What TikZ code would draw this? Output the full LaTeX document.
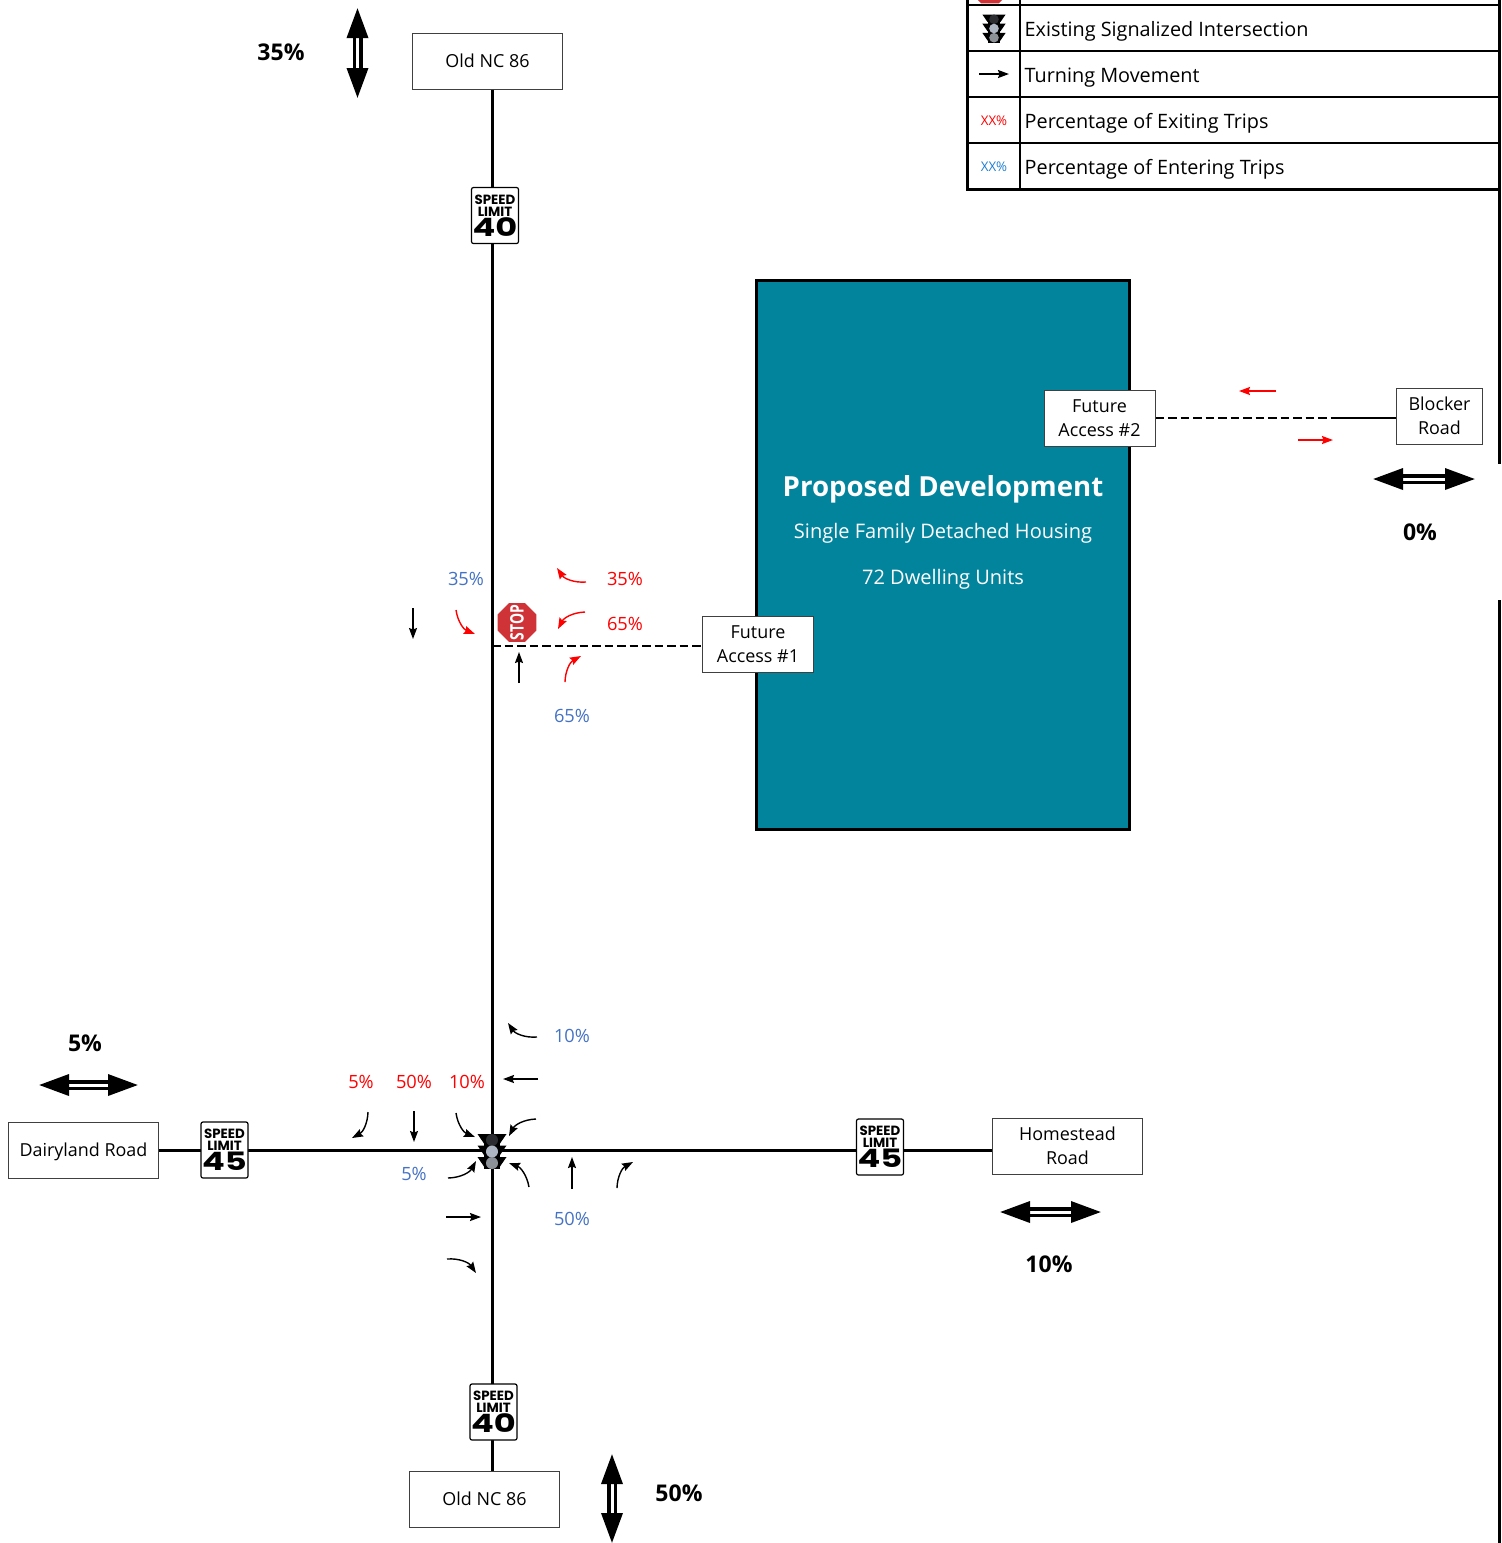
\documentclass[tikz,border=0pt]{standalone}
\usepackage{fontspec}
\setmainfont{Open Sans}
\newfontfamily\limitfont{Poppins}
\usetikzlibrary{arrows.meta,shapes.geometric}
\definecolor{devteal}{HTML}{02849D}
\definecolor{enterblue}{HTML}{4472C4}
\definecolor{legendblue}{HTML}{1F7FD0}
\definecolor{stopred}{HTML}{CF3237}
\definecolor{lamptop}{HTML}{2B2D30}
\definecolor{lampmid}{HTML}{AEB5C3}
\definecolor{lamplow}{HTML}{8C9097}
\newcommand{\limittext}[1]{SPEED\\LIMIT\\[-0.6pt]{\fontsize{7.2}{7.2}\selectfont\scalebox{1.33}[1]{#1}}}
\tikzset{
    roadbox/.style={draw=black!75, fill=white, line width=0.01cm, align=center, font=\fontsize{5.1}{6.9}\selectfont, minimum height=0.56cm, inner sep=0pt},
    limitsign/.style={draw=black, fill=white, line width=0.012cm, rounded corners=0.02cm, align=center, minimum width=0.47cm, minimum height=0.56cm, inner sep=0pt, font=\limitfont\fontsize{3.8}{3.4}\selectfont\bfseries},
    road/.style={line width=0.03cm},
    futureroad/.style={line width=0.025cm, dash pattern=on 0.085cm off 0.04cm},
    gridline/.style={line width=0.012cm},
    gridframe/.style={line width=0.03cm},
    turn/.style={-{Stealth[length=0.11cm,width=0.08cm,inset=0.015cm]}, line width=0.014cm},
    exitturn/.style={turn, red},
    twoway/.style={{Triangle[length=0.3cm,width=0.21cm]}-{Triangle[length=0.3cm,width=0.21cm]}, double, double distance=0.03cm, line width=0.035cm},
    enterpct/.style={text=enterblue, font=\fontsize{5.2}{6}\selectfont, inner sep=0pt, yshift=-0.01cm},
    exitpct/.style={text=red, font=\fontsize{5.2}{6}\selectfont, inner sep=0pt, yshift=-0.01cm},
    splitpct/.style={font=\fontsize{6.55}{8}\selectfont\bfseries, inner sep=0pt, yshift=-0.01cm},
    legendtext/.style={anchor=west, font=\fontsize{5.64}{7}\selectfont, inner sep=0pt, yshift=-0.03cm},
    legendpct/.style={font=\fontsize{3.8}{5}\selectfont, inner sep=0pt, yshift=-0.01cm},
    stopsign/.style={regular polygon, regular polygon sides=8, fill=stopred, minimum size=0.42cm, inner sep=0pt, text=white, font=\fontsize{4.4}{5}\selectfont\bfseries},
    signal/.pic={
        \foreach \rowy in {0.115,0,-0.115} {
            \fill[black] (-0.145,\rowy+0.06) -- (0.145,\rowy+0.06) -- (0.08,\rowy-0.035) -- (-0.08,\rowy-0.035) -- cycle;
        }
        \fill[black] (-0.08,-0.175) rectangle (0.08,0.175);
        \fill[lamptop] (0,0.115) circle (0.06);
        \fill[lampmid] (0,0) circle (0.06);
        \fill[lamplow] (0,-0.115) circle (0.06);
    }
}
\begin{document}
\begin{tikzpicture}
\useasboundingbox (0,0) rectangle (15.02,-15.43);

% boxes
\node[draw=black, line width=0.03cm, fill=devteal, minimum width=3.73cm, minimum height=5.49cm] at (9.43,-5.545) (site) {};
\node[roadbox, minimum width=1.50cm] at (4.875,-0.61) (oldnorth) {Old NC 86};
\node[roadbox, minimum width=1.50cm] at (4.845,-14.99) (oldsouth) {Old NC 86};
\node[roadbox, minimum width=1.50cm, text depth=0pt] at (0.835,-11.50) (dairyland) {Dairyland Road};
\node[roadbox, minimum width=1.50cm] at (10.675,-11.46) (homestead) {Homestead\\Road};
\node[roadbox, minimum width=1.11cm] at (7.58,-6.44) (access1) {Future\\Access \#1};
\node[roadbox, minimum width=1.11cm] at (10.995,-4.18) (access2) {Future\\Access \#2};
\node[roadbox, minimum width=0.86cm] at (14.395,-4.16) (blocker) {Blocker\\Road};

% roads
\coordinate (junction) at (4.92,-11.50);
\coordinate (stopjoin) at (4.92,-6.46);
\coordinate (blockjoin) at (13.34,-4.18);
\draw[road] (oldnorth.south -| junction) -- (oldsouth.north -| junction);
\draw[road] (dairyland.east) -- (homestead.west |- dairyland.east);
\draw[futureroad] (stopjoin) -- (access1.west |- stopjoin);
\draw[futureroad] (access2.east) -- (blockjoin);
\draw[road, line width=0.025cm] (blockjoin) -- (blocker.west |- blockjoin);

% signs
\node[limitsign] at (4.95,-2.155) (limit1) {\limittext{40}};
\node[limitsign] at (4.935,-14.12) (limit2) {\limittext{40}};
\node[limitsign] at (2.245,-11.50) (limit3) {\limittext{45}};
\node[limitsign] at (8.80,-11.47) (limit4) {\limittext{45}};
\node[stopsign, rotate=90] at (5.17,-6.225) (stop1) {\makebox[0pt]{\scalebox{0.9}[1.2]{STOP}}};
\pic[yshift=-0.015cm] at (junction) {signal};

% development text
\node[text=white, font=\fontsize{7.86}{10}\selectfont\bfseries] at (9.43,-4.89) (devname) {Proposed Development};
\node[text=white, font=\fontsize{5.7}{7}\selectfont] at (9.43,-5.33) (devtype) {Single Family Detached Housing};
\node[text=white, font=\fontsize{5.7}{7}\selectfont] at (9.43,-5.79) (devunits) {72 Dwelling Units};

% trip split arrows
\coordinate (splita1) at (3.575,-0.08); \coordinate (splita2) at (3.575,-0.98);
\coordinate (splitb1) at (6.12,-14.54); \coordinate (splitb2) at (6.12,-15.43);
\coordinate (splitc1) at (13.73,-4.79); \coordinate (splitc2) at (14.75,-4.79);
\coordinate (splitd1) at (0.39,-10.85); \coordinate (splitd2) at (1.38,-10.85);
\coordinate (splite1) at (10.00,-12.12); \coordinate (splite2) at (11.01,-12.12);
\draw[twoway] (splita1) -- (splita2);
\draw[twoway] (splitb1) -- (splitb2);
\draw[twoway] (splitc1) -- (splitc2);
\draw[twoway] (splitd1) -- (splitd2);
\draw[twoway] (splite1) -- (splite2);
\node[splitpct] at (2.81,-0.51) (pcta) {35\%};
\node[splitpct] at (6.79,-14.92) (pctb) {50\%};
\node[splitpct] at (14.20,-5.31) (pctc) {0\%};
\node[splitpct] at (0.85,-10.42) (pctd) {5\%};
\node[splitpct] at (10.49,-12.63) (pcte) {10\%};

% access 1 movements
\coordinate (ua1) at (5.86,-5.82); \coordinate (ua2) at (5.57,-5.68);
\coordinate (ub1) at (5.85,-6.12); \coordinate (ub2) at (5.58,-6.29);
\coordinate (uc1) at (4.56,-6.10); \coordinate (uc2) at (4.75,-6.34);
\coordinate (ud1) at (5.65,-6.82); \coordinate (ud2) at (5.81,-6.56);
\coordinate (ue1) at (4.13,-6.08); \coordinate (ue2) at (4.13,-6.39);
\coordinate (uf1) at (5.19,-6.83); \coordinate (uf2) at (5.19,-6.52);
\draw[exitturn] (ua1) to[bend left=30] (ua2);
\draw[exitturn] (ub1) to[bend right=30] (ub2);
\draw[exitturn] (uc1) to[bend right=30] (uc2);
\draw[exitturn] (ud1) to[bend left=30] (ud2);
\draw[turn] (ue1) -- (ue2);
\draw[turn] (uf1) -- (uf2);
\node[enterpct] at (4.66,-5.78) (up1) {35\%};
\node[enterpct] at (5.72,-7.15) (up2) {65\%};
\node[exitpct] at (6.25,-5.78) (up3) {35\%};
\node[exitpct] at (6.25,-6.23) (up4) {65\%};

% access 2 movements
\coordinate (va1) at (12.76,-3.91); \coordinate (va2) at (12.39,-3.91);
\coordinate (vb1) at (12.98,-4.40); \coordinate (vb2) at (13.33,-4.40);
\draw[exitturn] (va1) -- (va2);
\draw[exitturn] (vb1) -- (vb2);

% signal movements
\coordinate (ra1) at (5.37,-10.37); \coordinate (ra2) at (5.08,-10.23);
\coordinate (rb1) at (5.38,-10.79); \coordinate (rb2) at (5.03,-10.79);
\coordinate (rc1) at (5.36,-11.19); \coordinate (rc2) at (5.09,-11.36);
\coordinate (rd1) at (3.68,-11.12); \coordinate (rd2) at (3.52,-11.38);
\coordinate (re1) at (4.14,-11.11); \coordinate (re2) at (4.14,-11.42);
\coordinate (rf1) at (4.56,-11.13); \coordinate (rf2) at (4.75,-11.37);
\coordinate (rg1) at (4.48,-11.78); \coordinate (rg2) at (4.76,-11.61);
\coordinate (rh1) at (4.46,-12.17); \coordinate (rh2) at (4.81,-12.17);
\coordinate (ri1) at (4.47,-12.59); \coordinate (ri2) at (4.76,-12.73);
\coordinate (rj1) at (5.29,-11.87); \coordinate (rj2) at (5.09,-11.63);
\coordinate (rk1) at (5.72,-11.89); \coordinate (rk2) at (5.72,-11.57);
\coordinate (rl1) at (6.17,-11.88); \coordinate (rl2) at (6.33,-11.62);
\draw[turn] (ra1) to[bend left=30] (ra2);
\draw[turn] (rb1) -- (rb2);
\draw[turn] (rc1) to[bend right=30] (rc2);
\draw[turn] (rd1) to[bend left=30] (rd2);
\draw[turn] (re1) -- (re2);
\draw[turn] (rf1) to[bend right=30] (rf2);
\draw[turn] (rg1) to[bend right=30] (rg2);
\draw[turn] (rh1) -- (rh2);
\draw[turn] (ri1) to[bend left=30] (ri2);
\draw[turn] (rj1) to[bend right=30] (rj2);
\draw[turn] (rk1) -- (rk2);
\draw[turn] (rl1) to[bend left=30] (rl2);
\node[enterpct] at (5.72,-10.35) (sp1) {10\%};
\node[exitpct] at (3.61,-10.81) (sp2) {5\%};
\node[exitpct] at (4.14,-10.81) (sp3) {50\%};
\node[exitpct] at (4.67,-10.81) (sp4) {10\%};
\node[enterpct] at (4.14,-11.73) (sp5) {5\%};
\node[enterpct] at (5.72,-12.18) (sp6) {50\%};

% legend
\begin{scope}
\clip (9.60,0) rectangle (15.02,-2);
\node[stopsign, minimum size=0.46cm] at (9.90,0.18) (legendstop) {};
\end{scope}
\draw[gridline] (10.20,0) -- (10.20,-1.89);
\foreach \rowy in {0.05,0.51,0.97,1.43} {
    \draw[gridline] (9.67,-\rowy) -- (14.99,-\rowy);
}
\draw[gridframe] (9.67,0) -- (9.67,-1.89) -- (14.99,-1.89);
\draw[gridframe] (14.99,0) -- (14.99,-4.64);
\draw[gridframe] (14.99,-6.00) -- (14.99,-15.43);
\pic[scale=0.8] at (9.94,-0.285) {signal};
\coordinate (keya) at (9.79,-0.74); \coordinate (keyb) at (10.09,-0.74);
\draw[turn] (keya) -- (keyb);
\node[legendpct, text=red] at (9.94,-1.20) (keyexit) {XX\%};
\node[legendpct, text=legendblue] at (9.94,-1.66) (keyenter) {XX\%};
\node[legendtext] at (10.24,-0.285) (text1) {Existing Signalized Intersection};
\node[legendtext] at (10.24,-0.745) (text2) {Turning Movement};
\node[legendtext] at (10.24,-1.205) (text3) {Percentage of Exiting Trips};
\node[legendtext] at (10.24,-1.66) (text4) {Percentage of Entering Trips};
\end{tikzpicture}
\end{document}
